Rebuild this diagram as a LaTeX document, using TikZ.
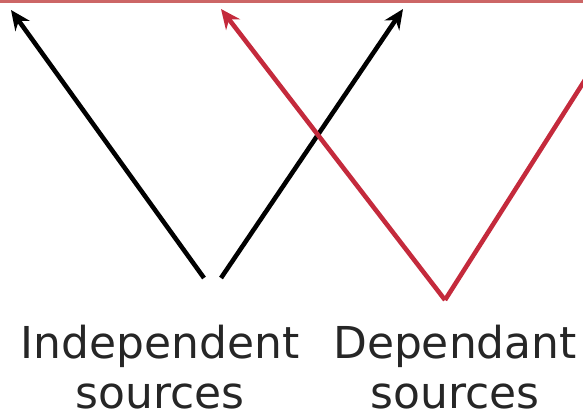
\documentclass[tikz,border=0pt]{standalone}
\usepackage{fontspec}
\setmainfont{DejaVu Sans}
\usepackage{tikz}
\usetikzlibrary{
    arrows,
    arrows.meta,
    calc,
    positioning
}
\definecolor{depred}{HTML}{C42A3C}
\definecolor{depedge}{HTML}{CC6666}
\tikzstyle{arrow}=[line width=1.3pt,->,>={Stealth[length=5.6pt,width=5pt]}]

\begin{document}
\begin{tikzpicture}[
    x=0.01cm,y=-0.01cm,
    every node/.style={font=\fontsize{12.5}{14.2}\selectfont},
    srctext/.style={
        align=center,
        inner sep=0pt,
        anchor=north,
        text=black!85
    }
]
\clip (0,0) rectangle (583,415);
\draw[depedge,line width=0.9pt] (0,1.5) -- (583,1.5);
% independent sources
\coordinate (ia) at (204,278);
\coordinate (ib) at (221,278);
\coordinate (il) at (11,10);
\coordinate (ir) at (403,9);
\draw[arrow] (ia) -- (il);
\draw[arrow] (ib) -- (ir);
% dependant sources
\coordinate (da) at (445,300);
\coordinate (dl) at (221,9);
\coordinate (dr) at (590,72);
\draw[arrow,draw=depred] (da) -- (dl);
\draw[line width=1.3pt,depred] (da) -- (dr);
\node[srctext] (indep) at (160,324) {Independent\\sources};
\node[srctext] (dep) at (455,324) {Dependant\\sources};
\end{tikzpicture}
\end{document}
